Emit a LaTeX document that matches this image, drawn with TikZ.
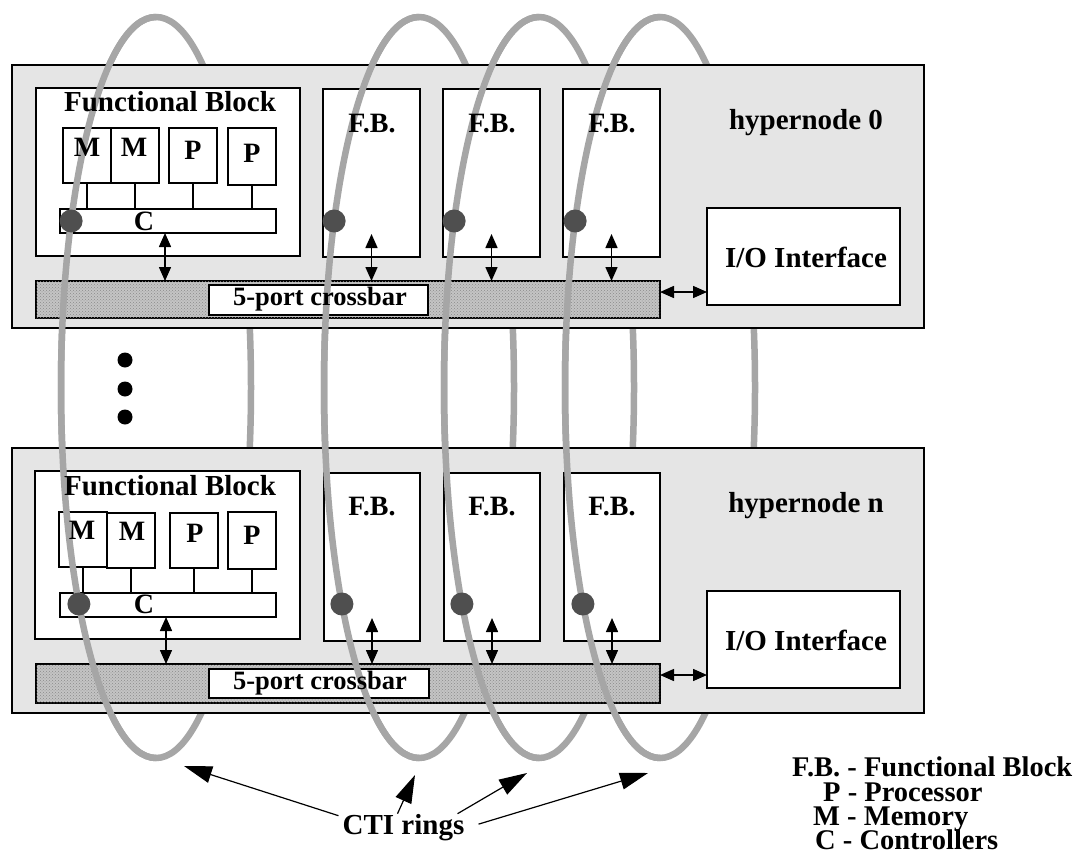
\documentclass[tikz,border=0pt]{standalone}
\usepackage{fontspec}
\setmainfont{Liberation Serif}
\usetikzlibrary{arrows.meta,patterns}
\definecolor{hnfill}{HTML}{E5E5E5}
\definecolor{ringc}{HTML}{A6A6A6}
\definecolor{dotc}{HTML}{4F4F4F}
\definecolor{xbarbg}{HTML}{C4C4C4}
\definecolor{xbardot}{HTML}{8A8A8A}
\newcommand\fsz[1]{\fontsize{#1}{#1}\selectfont\bfseries}
\begin{document}
\begin{tikzpicture}[x=1pt,y=-1pt,
  hyper/.style={draw,line width=1.6pt,fill=hnfill,inner sep=0pt,outer sep=0pt},
  wbox/.style={draw,line width=1.6pt,fill=white,inner sep=0pt,outer sep=0pt},
  xbar/.style={draw,line width=1.6pt,fill=xbarbg,postaction={pattern=crosshatch dots,pattern color=xbardot},inner sep=0pt,outer sep=0pt},
  ring/.style={draw=ringc,line width=6.5pt},
  ringdot/.style={circle,fill=dotc,minimum size=23pt,inner sep=0pt},
  bdot/.style={circle,fill=black,minimum size=15pt,inner sep=0pt},
  txt/.style={inner sep=0pt,anchor=base,font={\fsz{28}}},
  big/.style={font={\fsz{29}}},
  xtxt/.style={font={\fsz{26.5}}},
  lgd/.style={inner sep=0pt,anchor=base west,font={\fsz{28.5}},text height=19pt,text depth=0pt},
  dbl/.style={line width=1.5pt,{Triangle[length=14pt,width=12pt]}-{Triangle[length=14pt,width=12pt]}},
  cti/.style={line width=1.2pt,-{Triangle[length=28pt,width=17pt]}},
  conn/.style={line width=1.5pt}
]
\useasboundingbox[fill=white] (0,0) rectangle (1086,856);

% rings (back halves, full ellipses)
\foreach \cx in {156,419,539,660}{
  \draw[ring] (\cx,387.5) ellipse[x radius=95pt,y radius=370.5pt];
}

% ---------- hypernode 0 ----------
\node[hyper,minimum width=912pt,minimum height=263pt] (hn0) at (468,196.5) {};
\node[wbox,minimum width=264pt,minimum height=168pt] (fba) at (168,172) {};
\node[wbox,minimum width=48pt,minimum height=55pt] (ma1) at (87,155.5) {};
\node[wbox,minimum width=48pt,minimum height=55pt] (ma2) at (135,155.5) {};
\node[wbox,minimum width=48pt,minimum height=55pt] (pa1) at (193,155.5) {};
\node[wbox,minimum width=48pt,minimum height=57pt] (pa2) at (252,156.5) {};
\node[wbox,minimum width=216pt,minimum height=24pt] (ca) at (168,221) {};
\node[wbox,minimum width=97pt,minimum height=168pt] (fba2) at (371.5,173) {};
\node[wbox,minimum width=97pt,minimum height=168pt] (fba3) at (491.5,173) {};
\node[wbox,minimum width=97pt,minimum height=168pt] (fba4) at (611.5,173) {};
\node[xbar,minimum width=624pt,minimum height=37pt] (xa) at (348,299.5) {};
\node[wbox,minimum width=219pt,minimum height=30pt] (xla) at (318.5,300) {};
\node[wbox,minimum width=193pt,minimum height=97pt] (ioa) at (803.5,256.5) {};

% ---------- hypernode n ----------
\node[hyper,minimum width=912pt,minimum height=265pt] (hn1) at (468,580.5) {};
\node[wbox,minimum width=265pt,minimum height=168pt] (fbb) at (167.5,555) {};
\node[wbox,minimum width=48pt,minimum height=55pt] (mb1) at (83,539.5) {};
\node[wbox,minimum width=48pt,minimum height=55pt] (mb2) at (131,540.5) {};
\node[wbox,minimum width=48pt,minimum height=55pt] (pb1) at (194,540.5) {};
\node[wbox,minimum width=48pt,minimum height=57pt] (pb2) at (252,540.5) {};
\node[wbox,minimum width=216pt,minimum height=24pt] (cb) at (168,605) {};
\node[wbox,minimum width=96pt,minimum height=168pt] (fbb2) at (372,557) {};
\node[wbox,minimum width=96pt,minimum height=168pt] (fbb3) at (492,557) {};
\node[wbox,minimum width=96pt,minimum height=168pt] (fbb4) at (612,557) {};
\node[xbar,minimum width=624pt,minimum height=39pt] (xb) at (348,683.5) {};
\node[wbox,minimum width=220pt,minimum height=29pt] (xlb) at (319,683.5) {};
\node[wbox,minimum width=193pt,minimum height=97pt] (iob) at (803.5,639.5) {};

% rings (front halves)
\foreach \cx in {156,419,539,660}{
  \draw[ring] (\cx,17) arc[start angle=90,end angle=270,x radius=95pt,y radius=370.5pt];
}

% ring taps
\node[ringdot] (da1) at (71.1,221) {};
\node[ringdot] (da2) at (334.1,221) {};
\node[ringdot] (da3) at (454.1,221) {};
\node[ringdot] (da4) at (575.1,221) {};
\node[ringdot] (db1) at (78.9,604) {};
\node[ringdot] (db2) at (341.9,604) {};
\node[ringdot] (db3) at (461.9,604) {};
\node[ringdot] (db4) at (582.9,604) {};

% texts hypernode 0
\node[txt,big] (tfa) at (170,112) {Functional Block};
\node[txt] (tma1) at (87,157) {M};
\node[txt] (tma2) at (134,157) {M};
\node[txt] (tpa1) at (193,159) {P};
\node[txt] (tpa2) at (252,162) {P};
\node[txt] (tca) at (144,230) {C};
\node[txt] (tfa2) at (372,132) {F.B.};
\node[txt] (tfa3) at (492,132) {F.B.};
\node[txt] (tfa4) at (612,132) {F.B.};
\node[txt,xtxt] (txa) at (320,305) {5-port crossbar};
\node[txt,big] (tioa) at (806,267) {I/O Interface};
\node[txt,big] (thna) at (806,129) {hypernode 0};

% texts hypernode n
\node[txt,big] (tfb) at (170,495) {Functional Block};
\node[txt] (tmb1) at (82,539) {M};
\node[txt] (tmb2) at (132,540) {M};
\node[txt] (tpb1) at (195,542) {P};
\node[txt] (tpb2) at (252,544) {P};
\node[txt] (tcb) at (144,613) {C};
\node[txt] (tfb2) at (372,515) {F.B.};
\node[txt] (tfb3) at (492,515) {F.B.};
\node[txt] (tfb4) at (612,515) {F.B.};
\node[txt,xtxt] (txb) at (320,689) {5-port crossbar};
\node[txt,big] (tiob) at (806,650) {I/O Interface};
\node[txt,big] (thnb) at (806,512) {hypernode n};

% connectors hypernode 0
\foreach \b in {ma1,ma2,pa1,pa2}{\draw[conn] (\b.south) -- (\b.south |- ca.north);}
\draw[dbl] ([xshift=-3pt]ca.south) -- ([xshift=-3pt]ca.south |- xa.north);
\foreach \b in {fba2,fba3,fba4}{\draw[dbl] ([yshift=23pt]\b.south) -- (\b.south |- xa.north);}
\draw[dbl] ([yshift=7.5pt]xa.east) -- ([yshift=7.5pt]xa.east -| ioa.west);

% connectors hypernode n
\foreach \b in {mb1,mb2,pb1,pb2}{\draw[conn] (\b.south) -- (\b.south |- cb.north);}
\draw[dbl] ([xshift=-2pt]cb.south) -- ([xshift=-2pt]cb.south |- xb.north);
\foreach \b in {fbb2,fbb3,fbb4}{\draw[dbl] ([yshift=23pt]\b.south) -- (\b.south |- xb.north);}
\draw[dbl] ([yshift=8.5pt]xb.east) -- ([yshift=8.5pt]xb.east -| iob.west);

% vertical ellipsis
\node[bdot] (v1) at (125,360) {};
\node[bdot] (v2) at (125,389) {};
\node[bdot] (v3) at (125,417) {};

% CTI rings label
\node[txt,big] (cti) at (403.5,834) {CTI rings};
\coordinate (r1) at (184,766);
\coordinate (r2) at (415,775);
\coordinate (r3) at (527,773);
\coordinate (r4) at (648,773);
\draw[cti] ([xshift=-4pt,yshift=-2pt]cti.north west) -- (r1);
\draw[cti] ([xshift=-6pt]cti.north) -- (r2);
\draw[cti] ([xshift=-7pt]cti.north east) -- (r3);
\draw[cti] ([xshift=14pt,yshift=3pt]cti.east) -- (r4);

% legend
\node[lgd] (lg1) at (792,776) {F.B. - Functional Block};
\node[lgd] (lg2) at (823,801) {P - Processor};
\node[lgd] (lg3) at (813,825) {M - Memory};
\node[lgd] (lg4) at (815,849) {C - Controllers};
\end{tikzpicture}
\end{document}
